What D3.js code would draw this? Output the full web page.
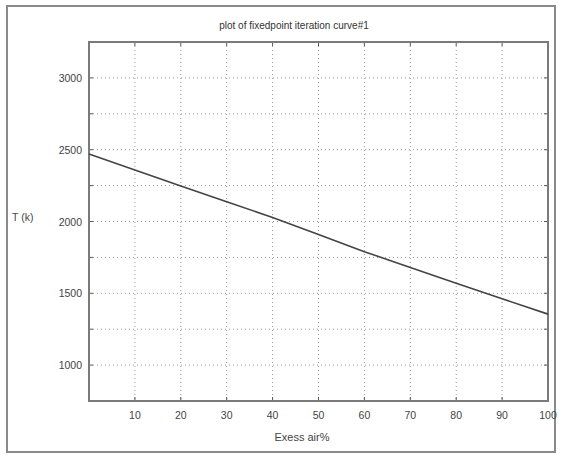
<!DOCTYPE html>
<html><head><meta charset="utf-8">
<script src="https://cdn.jsdelivr.net/npm/d3@7"></script>
<style>body{margin:0;background:#fff}svg{display:block}</style>
</head><body>
<script>
const excessAir = [0, 10, 20, 30, 40, 50, 60, 70, 80, 90, 100];
const temperature = [2470, 2358, 2248, 2138, 2028, 1910, 1790, 1680, 1570, 1462, 1355];
const xTicks = [10, 20, 30, 40, 50, 60, 70, 80, 90, 100];
const yTicks = [1000, 1250, 1500, 1750, 2000, 2250, 2500, 2750, 3000];
const yLabels = [1000, 1500, 2000, 2500, 3000];
const title = "plot of fixedpoint iteration curve#1";
const xLabel = "Exess air%";
const yLabel = "T (k)";

const W = 563, H = 455;
const L = 89, R = 548, T = 42, B = 401;
const svg = d3.select("body").append("svg").attr("width", W).attr("height", H)
  .style("font-family", "'Liberation Sans', Arial, sans-serif");

svg.append("rect").attr("x", 7).attr("y", 6).attr("width", 548).attr("height", 446)
  .attr("fill", "#fff").attr("stroke", "#8a8a8a").attr("stroke-width", 2);

const x = d3.scaleLinear().domain([0, 100]).range([L, R]);
const y = d3.scaleLinear().domain([750, 3250]).range([B, T]);

const g = svg.append("g");
// grid
g.selectAll(".gx").data(xTicks.filter(d => d < 100)).enter().append("line")
  .attr("x1", d => x(d)).attr("x2", d => x(d)).attr("y1", T).attr("y2", B)
  .attr("stroke", "#9a9a9a").attr("stroke-width", 1).attr("stroke-dasharray", "1,3");
g.selectAll(".gy").data(yTicks).enter().append("line")
  .attr("x1", L).attr("x2", R).attr("y1", d => y(d)).attr("y2", d => y(d))
  .attr("stroke", "#9a9a9a").attr("stroke-width", 1).attr("stroke-dasharray", "1,3");

// ticks inward on all sides
const tk = 4;
xTicks.forEach(d => {
  g.append("line").attr("x1", x(d)).attr("x2", x(d)).attr("y1", B).attr("y2", B - tk).attr("stroke", "#555");
  g.append("line").attr("x1", x(d)).attr("x2", x(d)).attr("y1", T).attr("y2", T + tk).attr("stroke", "#555");
});
yTicks.forEach(d => {
  g.append("line").attr("x1", L).attr("x2", L + tk).attr("y1", y(d)).attr("y2", y(d)).attr("stroke", "#555");
  g.append("line").attr("x1", R).attr("x2", R - tk).attr("y1", y(d)).attr("y2", y(d)).attr("stroke", "#555");
});

// box
g.append("rect").attr("x", L).attr("y", T).attr("width", R - L).attr("height", B - T)
  .attr("fill", "none").attr("stroke", "#7a7a7a").attr("stroke-width", 2);

// line
const line = d3.line().x((d, i) => x(excessAir[i])).y(d => y(d));
g.append("path").datum(temperature).attr("d", line)
  .attr("fill", "none").attr("stroke", "#444").attr("stroke-width", 1.6);

// tick labels
g.selectAll(".xl").data(xTicks).enter().append("text")
  .attr("x", d => x(d)).attr("y", 419).attr("text-anchor", "middle")
  .attr("font-size", 10.5).attr("fill", "#444").text(d => d);
g.selectAll(".yl").data(yLabels).enter().append("text")
  .attr("x", 82).attr("y", d => y(d) + 4).attr("text-anchor", "end")
  .attr("font-size", 10.5).attr("fill", "#444").text(d => d);

svg.append("text").attr("x", 294).attr("y", 29).attr("text-anchor", "middle")
  .attr("font-size", 10).attr("fill", "#333").text(title);
svg.append("text").attr("x", 302).attr("y", 441).attr("text-anchor", "middle")
  .attr("font-size", 11).attr("fill", "#444").text(xLabel);
svg.append("text").attr("x", 12).attr("y", 221)
  .attr("font-size", 10.5).attr("fill", "#444").text(yLabel);
</script>
</body></html>
